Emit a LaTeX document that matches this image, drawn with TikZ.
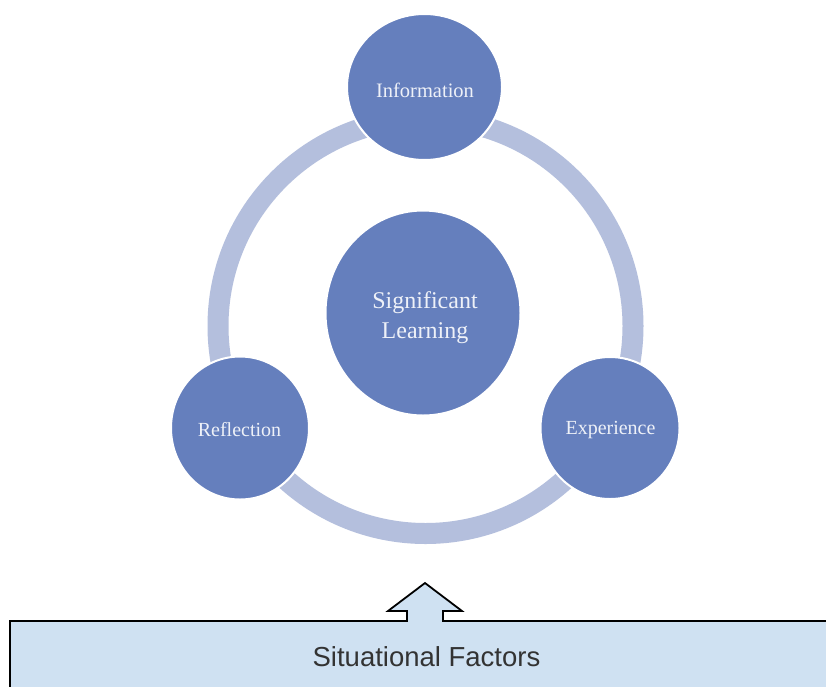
\documentclass[tikz,border=0pt]{standalone}
\usepackage{fontspec}
\setmainfont{Liberation Serif}
\newfontfamily\arialfont{Liberation Sans}
\usetikzlibrary{shapes.geometric}
\definecolor{circfill}{HTML}{657FBD}
\definecolor{ringcol}{HTML}{B4BFDD}
\definecolor{boxfill}{HTML}{CFE1F2}
\definecolor{txtlight}{HTML}{EEF1F8}
\definecolor{txtdark}{HTML}{333333}
\tikzset{
  bubble/.style={ellipse, fill=circfill, draw=white, line width=2pt, inner sep=0pt},
  bubbletext/.style={text=txtlight, align=center, inner sep=0pt},
  ringline/.style={draw=ringcol, line width=21pt},
  basebox/.style={fill=boxfill, draw=black, line width=1.8pt, line join=miter},
}
\begin{document}
\begin{tikzpicture}[x=1pt,y=-1pt]
\useasboundingbox (0,0) rectangle (826,686);
\clip (0,0) rectangle (826,686);
\fill[white] (0,0) rectangle (826,686);
% ring
\coordinate (ringc) at (425.5,326);
\draw[ringline] (ringc) circle (207.5);
% circles
\node[bubble, minimum width=155pt, minimum height=146pt] (info) at (424.5,87) {};
\node[bubble, minimum width=195pt, minimum height=205pt] (sig) at (423,313) {};
\node[bubble, minimum width=138pt, minimum height=143pt] (refl) at (240,428) {};
\node[bubble, minimum width=139pt, minimum height=142pt] (exp) at (610,428) {};
% texts
\node[bubbletext, font=\fontsize{20.5}{24}\selectfont] (infot) at (425,90) {Information};
\node[bubbletext, font=\fontsize{24}{30}\selectfont] (sigt) at (425,318) {Significant\\Learning};
\node[bubbletext, font=\fontsize{20}{24}\selectfont] (reflt) at (239.5,430) {Reflection};
\node[bubbletext, font=\fontsize{20}{24}\selectfont] (expt) at (610.5,430) {Experience};
% base box with arrow
\coordinate (tip) at (425,583);
\draw[basebox] (10,700) -- (10,621) -- (407,621) -- (407,611) -- (388,611) -- (tip)
  -- (462,611) -- (443,611) -- (443,621) -- (840,621) -- (840,700) -- cycle;
\node[text=txtdark, font=\arialfont\fontsize{27.5}{32}\selectfont] (sf) at (426.5,657) {Situational Factors};
\end{tikzpicture}
\end{document}
